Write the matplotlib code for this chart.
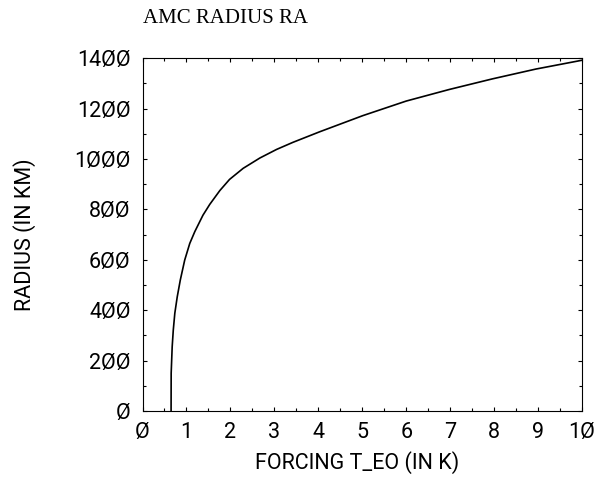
import matplotlib
matplotlib.use("Agg")
import matplotlib.pyplot as plt
from matplotlib.ticker import MultipleLocator, FuncFormatter

# Data
forcing = [0.65, 0.652, 0.675, 0.70, 0.735, 0.79, 0.86, 0.96, 1.075, 1.19,
           1.375, 1.53, 1.76, 1.98, 2.29, 2.67, 3.05, 3.42, 4.03, 5.01,
           6.00, 6.98, 7.96, 8.95, 10.0]
radius = [0, 150, 255, 321, 388, 453, 520, 599, 665, 712,
          777, 820, 875, 919, 963, 1004, 1038, 1066, 1108, 1172,
          1230, 1276, 1318, 1357, 1392]

title = "AMC RADIUS RA"
xlabel = "FORCING T_EO (IN K)"
ylabel = "RADIUS (IN KM)"

LBL_FAMILY = ["Roboto", "DejaVu Sans"]

fig = plt.figure(figsize=(6.08, 4.78), dpi=100)
ax = fig.add_axes([0.2344, 0.1402, 0.7229, 0.738])

ax.plot(forcing, radius, color="black", lw=1.2)

ax.set_xlim(0, 10)
ax.set_ylim(0, 1400)
ax.xaxis.set_major_locator(MultipleLocator(1))
ax.xaxis.set_minor_locator(MultipleLocator(0.5))
ax.yaxis.set_major_locator(MultipleLocator(200))
ax.yaxis.set_minor_locator(MultipleLocator(100))

fmt = FuncFormatter(lambda v, p: ("%d" % round(v)).replace("0", "\u00d8"))
ax.xaxis.set_major_formatter(fmt)
ax.yaxis.set_major_formatter(fmt)

ax.tick_params(which="both", direction="in", top=True, right=True, width=0.8)
ax.tick_params(which="major", length=3.1)
ax.tick_params(which="minor", length=1.9)
ax.tick_params(axis="x", which="major", pad=8, labelsize=15.5)
ax.tick_params(axis="y", which="major", pad=8.5, labelsize=15.5)
for lab in ax.get_xticklabels() + ax.get_yticklabels():
    lab.set_family(LBL_FAMILY)
    lab.set_fontweight("normal")

for s in ax.spines.values():
    s.set_linewidth(0.8)

ax.set_xlabel(xlabel, fontsize=15.5, family=LBL_FAMILY, fontweight="normal")
ax.set_ylabel(ylabel, fontsize=15.5, family=LBL_FAMILY, fontweight="normal")
ax.xaxis.set_label_coords(0.488, -0.113)
ax.yaxis.set_label_coords(-0.242, 0.5)
ax.set_title(title, loc="left", fontsize=15, family="Liberation Serif", pad=25)

fig.savefig("out.png", dpi=100)
